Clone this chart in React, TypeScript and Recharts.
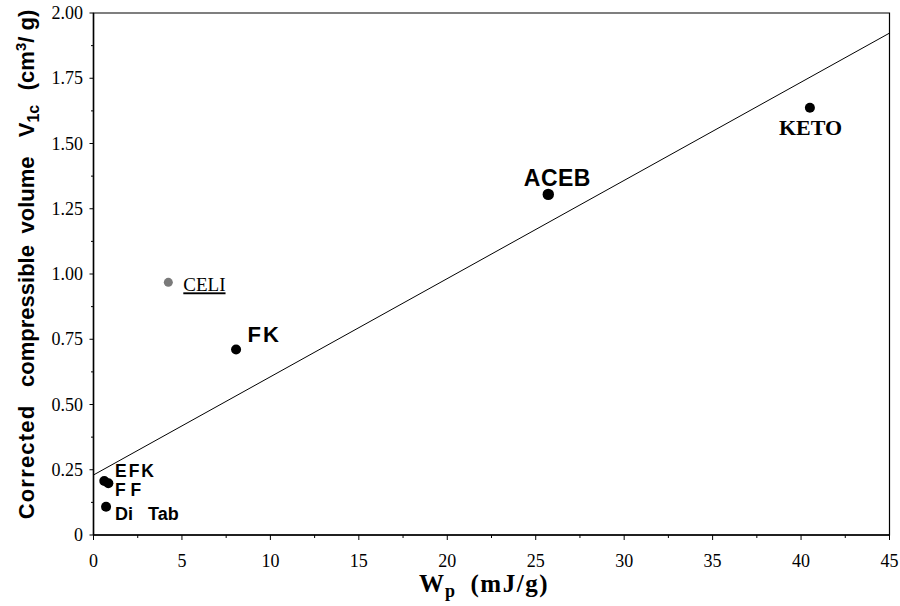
import React from 'react';
import { ScatterChart, Scatter, XAxis, YAxis, ReferenceLine, ReferenceArea } from 'recharts';

// ---- data ----
const names = ['CELI', 'FK', 'ACEB', 'KETO', 'EFK', 'FF', 'Di Tab'];
const wp = [4.23, 8.06, 25.71, 40.5, 0.61, 0.84, 0.71];
const v1c = [0.968, 0.711, 1.305, 1.637, 0.207, 0.198, 0.108];

const fitX = [0, 45];
const fitY = [0.23, 1.923];

const xTicks = [0, 2.5, 5, 7.5, 10, 12.5, 15, 17.5, 20, 22.5, 25, 27.5, 30, 32.5, 35, 37.5, 40, 42.5, 45];
const yTicks = [0, 0.125, 0.25, 0.375, 0.5, 0.625, 0.75, 0.875, 1, 1.125, 1.25, 1.375, 1.5, 1.625, 1.75, 1.875, 2];

// ---- styles (not data) ----
const SERIF = '"Liberation Serif", "Times New Roman", serif';
const SANS = '"Liberation Sans", Arial, sans-serif';

type LabelStyle = { dx: number; dy: number; family: string; size: number; weight: number | string; underline?: boolean; r: number; fill: string; spacing?: number };
const labelStyles: Record<string, LabelStyle> = {
  CELI: { dx: 15, dy: 9, family: SERIF, size: 19, weight: 400, underline: true, r: 4.5, fill: '#7a7a7a' },
  FK: { dx: 11.5, dy: -7, family: SANS, size: 22, weight: 700, r: 5, fill: '#000', spacing: 2 },
  ACEB: { dx: -24.5, dy: -8, family: SANS, size: 23, weight: 700, r: 5.7, fill: '#000', spacing: 0.5 },
  KETO: { dx: -31, dy: 27, family: SERIF, size: 22, weight: 700, r: 5, fill: '#000' },
  EFK: { dx: 10.7, dy: -3.5, family: SANS, size: 17.5, weight: 700, r: 5, fill: '#000', spacing: 2 },
  FF: { dx: 6.7, dy: 12.5, family: SANS, size: 17.5, weight: 700, r: 5, fill: '#000' },
  'Di Tab': { dx: 9, dy: 13.5, family: SANS, size: 18, weight: 700, r: 5, fill: '#000' },
};

const points = names.map((n, i) => ({ name: n, x: wp[i], y: v1c[i] }));

const PointShape = (props: any) => {
  const { cx, cy, payload } = props;
  const s = labelStyles[payload.name];
  const text = payload.name === 'Di Tab' ? 'Di   Tab' : payload.name === 'FF' ? 'F F' : payload.name;
  return (
    <g>
      <circle cx={cx} cy={cy} r={s.r} fill={s.fill} />
      <text
        x={cx + s.dx}
        y={cy + s.dy}
        fill="#000"
        letterSpacing={s.spacing || 0}
        textDecoration={s.underline ? 'underline' : undefined}
        style={{ whiteSpace: 'pre', fontFamily: s.family, fontSize: s.size, fontWeight: s.weight }}
      >
        {text}
      </text>
    </g>
  );
};

const XTick = (props: any) => {
  const { x, y, payload } = props;
  const v = payload.value;
  const major = Math.abs(v / 5 - Math.round(v / 5)) < 1e-9;
  return (
    <g>
      <line x1={x} x2={x} y1={y} y2={y + (major ? 5 : 3)} stroke="#000" strokeWidth={1} />
      {major && (
        <text x={x} y={y + 32} textAnchor="middle" fill="#000" style={{ fontFamily: SERIF, fontSize: 18 }}>
          {v}
        </text>
      )}
    </g>
  );
};

const YTick = (props: any) => {
  const { x, y, payload } = props;
  const v = payload.value;
  const major = Math.abs(v * 4 - Math.round(v * 4)) < 1e-9;
  return (
    <g>
      <line x1={x} x2={x - (major ? 4 : 2.5)} y1={y} y2={y} stroke="#000" strokeWidth={1} />
      {major && (
        <text x={x - 10.5} y={y + 6} textAnchor="end" fill="#000" style={{ fontFamily: SERIF, fontSize: 18 }}>
          {v === 0 ? '0' : v.toFixed(2)}
        </text>
      )}
    </g>
  );
};

const YTitle = () => {
  const bx = 34;
  const word = (t: React.ReactNode, yc: number, key: string, spacing = 0) => (
    <text
      key={key}
      x={bx}
      y={yc}
      transform={`rotate(-90, ${bx}, ${yc})`}
      textAnchor="middle"
      fill="#000"
      letterSpacing={spacing}
      style={{ fontFamily: SANS, fontSize: 22, fontWeight: 700 }}
    >
      {t}
    </text>
  );
  return (
    <g>
      {word('Corrected', 462, 'a', 1.2)}
      {word('compressible', 316, 'b')}
      {word('volume', 195, 'c')}
      {word(
        <>
          <tspan>V</tspan>
          <tspan style={{ fontSize: 16 }} dy={5}>1c</tspan>
        </>,
        121,
        'd'
      )}
      {word(
        <>
          <tspan>(cm</tspan>
          <tspan style={{ fontSize: 15 }} dy={-8}>3</tspan>
          <tspan dy={8}>/ g)</tspan>
        </>,
        50,
        'e'
      )}
    </g>
  );
};

const XTitle = () => (
  <text x={484} y={592} textAnchor="middle" fill="#000" style={{ fontFamily: SERIF, fontSize: 25, fontWeight: 700, whiteSpace: 'pre' }}>
    <tspan>W</tspan>
    <tspan style={{ fontSize: 18 }} dy={5} dx={1}>p</tspan>
    <tspan dy={-5} letterSpacing={1.5}>{'  (mJ/g)'}</tspan>
  </text>
);

export default function App() {
  return (
    <div style={{ position: 'absolute', left: 0, top: 0, width: 900, height: 606, background: '#fff' }}>
      <ScatterChart width={900} height={606} margin={{ top: 13, right: 10.5, bottom: 0, left: 0 }}>
        <ReferenceArea x1={0} x2={45} y1={0} y2={2} fill="none" stroke="#000" strokeWidth={1.2} ifOverflow="visible" />
        <XAxis
          type="number"
          dataKey="x"
          domain={[0, 45]}
          ticks={xTicks}
          interval={0}
          height={71}
          tickSize={0}
          tickMargin={0}
          tickLine={false}
          tick={<XTick />}
          axisLine={{ stroke: '#000', strokeWidth: 1.5 }}
          allowDataOverflow
          label={{ content: () => <XTitle /> }}
        />
        <YAxis
          type="number"
          dataKey="y"
          domain={[0, 2]}
          ticks={yTicks}
          interval={0}
          width={93.5}
          tickSize={0}
          tickMargin={0}
          tickLine={false}
          tick={<YTick />}
          axisLine={{ stroke: '#000', strokeWidth: 1.5 }}
          allowDataOverflow
          label={{ content: () => <YTitle /> }}
        />
        <ReferenceLine
          segment={[
            { x: fitX[0], y: fitY[0] },
            { x: fitX[1], y: fitY[1] },
          ]}
          stroke="#000"
          strokeWidth={1}
          ifOverflow="visible"
        />
        <Scatter data={points} shape={PointShape} isAnimationActive={false} />
      </ScatterChart>
    </div>
  );
}
